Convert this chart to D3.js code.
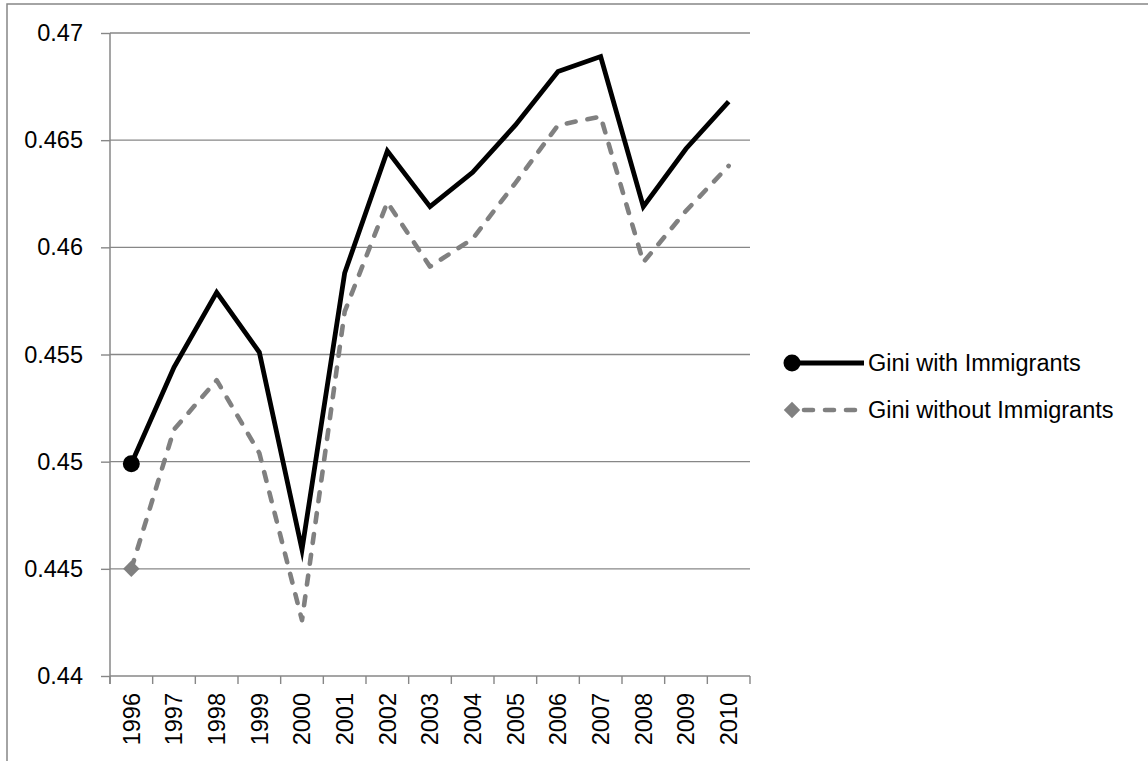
<!DOCTYPE html>
<html>
<head>
<meta charset="utf-8">
<script src="https://cdn.jsdelivr.net/npm/d3@7"></script>
<style>
  html, body { margin: 0; padding: 0; background: #fff; }
  svg { display: block; }
  text { font-family: "Liberation Sans", Arial, sans-serif; fill: #000; }
</style>
</head>
<body>
<svg id="chart" width="1148" height="761"></svg>
<script>
const years = ["1996","1997","1998","1999","2000","2001","2002","2003","2004","2005","2006","2007","2008","2009","2010"];
const giniWith = [0.4499, 0.4544, 0.4579, 0.4551, 0.4459, 0.4588, 0.4645, 0.4619, 0.4635, 0.4657, 0.4682, 0.4689, 0.4619, 0.4646, 0.4668];
const giniWithout = [0.4450, 0.4515, 0.4538, 0.4504, 0.4426, 0.4570, 0.4621, 0.4591, 0.4604, 0.4630, 0.4657, 0.4661, 0.4593, 0.4617, 0.4638];
const yTicks = [0.44, 0.445, 0.45, 0.455, 0.46, 0.465, 0.47];
const seriesNames = ["Gini with Immigrants", "Gini without Immigrants"];

const svg = d3.select("#chart");
const gridColor = "#878787";
const pL = 110, pR = 750, pT = 33, pB = 676;

// outer frame (only left/top visible)
svg.append("rect").attr("x", 7).attr("y", 4).attr("width", 1200).attr("height", 800)
  .attr("fill", "none").attr("stroke", gridColor).attr("stroke-width", 1.5);

const x = d3.scaleBand().domain(years).range([pL, pR]);
const y = d3.scaleLinear().domain([0.44, 0.47]).range([pB, pT]);

// gridlines
svg.append("g").selectAll("line").data(yTicks.slice(1)).join("line")
  .attr("x1", pL).attr("x2", pR)
  .attr("y1", d => y(d)).attr("y2", d => y(d))
  .attr("stroke", gridColor).attr("stroke-width", 1.4);

// y axis
const yAxis = svg.append("g").attr("transform", `translate(${pL},0)`)
  .call(d3.axisLeft(y).tickValues(yTicks).tickSize(9).tickPadding(18)
    .tickFormat(d => String(+d.toFixed(3))));
yAxis.select(".domain").attr("stroke", gridColor).attr("stroke-width", 1.5)
  .attr("d", `M0,${pB + 8}V${pT}`);
yAxis.selectAll(".tick line").attr("stroke", gridColor).attr("stroke-width", 1.4);
yAxis.selectAll(".tick text").attr("font-size", 23.5).attr("font-family", "Liberation Sans, Arial, sans-serif").attr("fill", "#000");

// x axis
const xAxis = svg.append("g").attr("transform", `translate(0,${pB})`)
  .call(d3.axisBottom(x).tickSize(0).tickFormat(""));
xAxis.select(".domain").attr("stroke", gridColor).attr("stroke-width", 1.5).attr("d", `M${pL},0H${pR}`);
xAxis.selectAll(".tick").remove();
const bounds = years.map(d => x(d)).concat([pR]);
svg.append("g").selectAll("line").data(bounds).join("line")
  .attr("x1", d => d).attr("x2", d => d)
  .attr("y1", pB).attr("y2", pB + 8)
  .attr("stroke", gridColor).attr("stroke-width", 1.4);
svg.append("g").selectAll("text").data(years).join("text")
  .attr("transform", d => `translate(${x(d) + x.bandwidth() / 2},693) rotate(-90)`)
  .attr("text-anchor", "end").attr("dy", "0.36em")
  .attr("font-size", 23.5).text(d => d);

const cx = d => x(d) + x.bandwidth() / 2;
const line = d3.line().x(d => cx(d[0])).y(d => y(d[1]));

// without immigrants (dashed gray)
svg.append("path").datum(years.map((d, i) => [d, giniWithout[i]]))
  .attr("d", line).attr("fill", "none").attr("stroke", "#808080")
  .attr("stroke-width", 4.6).attr("stroke-dasharray", "9,12")
  .attr("stroke-linecap", "round").attr("stroke-linejoin", "round");
// with immigrants (solid black)
svg.append("path").datum(years.map((d, i) => [d, giniWith[i]]))
  .attr("d", line).attr("fill", "none").attr("stroke", "#000")
  .attr("stroke-width", 4.8).attr("stroke-linejoin", "miter").attr("stroke-miterlimit", 10);

// markers at first point
const diamond = d3.symbol().type(d3.symbolSquare).size(135);
svg.append("path").attr("d", diamond)
  .attr("transform", `translate(${cx(years[0])},${y(giniWithout[0])}) rotate(45)`)
  .attr("fill", "#808080");
svg.append("circle").attr("cx", cx(years[0])).attr("cy", y(giniWith[0])).attr("r", 8.5).attr("fill", "#000");

// legend
const lg = svg.append("g");
const legY = [363, 410];
lg.append("line").attr("x1", 792).attr("x2", 864).attr("y1", legY[0]).attr("y2", legY[0])
  .attr("stroke", "#000").attr("stroke-width", 4.8);
lg.append("circle").attr("cx", 792).attr("cy", legY[0]).attr("r", 8.5).attr("fill", "#000");
lg.append("line").attr("x1", 800).attr("x2", 864).attr("y1", legY[1]).attr("y2", legY[1])
  .attr("stroke", "#808080").attr("stroke-width", 4.6).attr("stroke-dasharray", "9,12")
  .attr("stroke-dashoffset", -4).attr("stroke-linecap", "round");
lg.append("path").attr("d", diamond)
  .attr("transform", `translate(792,${legY[1]}) rotate(45)`).attr("fill", "#808080");
lg.selectAll("text").data(seriesNames).join("text")
  .attr("x", 868).attr("y", (d, i) => legY[i]).attr("dy", "0.36em")
  .attr("font-size", 23.5).text(d => d);
</script>
</body>
</html>
